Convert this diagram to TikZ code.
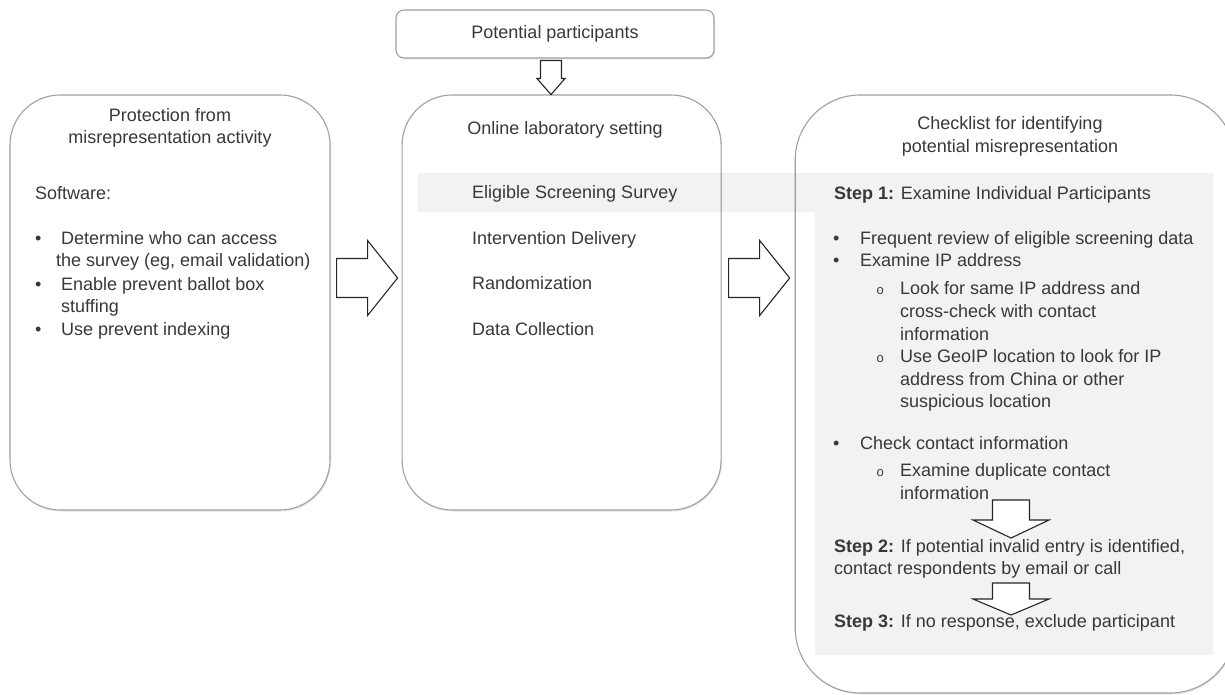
\documentclass[tikz,border=0pt]{standalone}
\usepackage{fontspec}
\setmainfont{Liberation Sans}
\usepackage{tikz}
\usetikzlibrary{positioning,calc,shadows}
\definecolor{txtgray}{HTML}{383838}
\definecolor{linegray}{HTML}{A0A0A0}
\newcommand{\fsz}{\fontsize{18pt}{22.5pt}\selectfont}
\newcommand{\bul}[1][26pt]{\makebox[#1][l]{\textbullet}}
\newcommand{\subbul}{\makebox[23.5pt][l]{\fontsize{13pt}{15pt}\selectfont o}}
% block arrows: tail, tip
\newcommand{\hblock}[2]{\draw[blockarrow] ($(#1)+(0,-19.5)$) -- ($(#2)+(-30,-19.5)$) -- ($(#2)+(-30,-37.5)$) -- (#2) -- ($(#2)+(-30,37.5)$) -- ($(#2)+(-30,19.5)$) -- ($(#1)+(0,19.5)$) -- cycle;}
\newcommand{\vblock}[5]{\draw[blockarrow] ($(#1)+(-#3,0)$) -- ($(#2)+(-#3,-#5)$) -- ($(#2)+(-#4,-#5)$) -- (#2) -- ($(#2)+(#4,-#5)$) -- ($(#2)+(#3,-#5)$) -- ($(#1)+(#3,0)$) -- cycle;}

\begin{document}
\begin{tikzpicture}[x=1pt, y=-1pt,
  bigbox/.style={draw=linegray, line width=1.1pt, fill=white, drop shadow={shadow xshift=1pt, shadow yshift=-1.5pt, opacity=0.2}},
  txt/.style={anchor=mid west, inner sep=0pt, text=txtgray, font=\fsz},
  title/.style={align=center, inner sep=0pt, text=txtgray, font=\fsz},
  blockarrow/.style={draw=black!85, fill=white, line width=1.1pt, line join=miter}]
\useasboundingbox (0,0) rectangle (1225,695);

% the three panels and the top box
\node[bigbox, rounded corners=50pt, minimum width=320pt, minimum height=415pt] (prot) at (170,302.5) {};
\node[bigbox, rounded corners=50pt, minimum width=319pt, minimum height=415pt, right=71pt of prot] (online) {};
\node[bigbox, rounded corners=65pt, minimum width=440pt, minimum height=598pt, anchor=north west] (check) at ($(online.north east)+(73,0)$) {};
\node[bigbox, rounded corners=8pt, minimum width=318pt, minimum height=48pt, text=txtgray, font=\fsz] (pot) at (555,34) {Potential participants};

% shaded band
\fill[black, opacity=0.05] (418,173) -- (1213,173) -- (1213,655) -- (815,655) -- (815,212) -- (418,212) -- cycle;

% left panel
\node[title] (protT) at (170,128) {Protection from\\misrepresentation activity};
\node[txt] (soft) at (35,197) {Software:};
\node[txt] (p1) at (35,242) {\bul Determine who can access};
\node[txt] (p1b) at (56,264) {the survey (eg, email validation)};
\node[txt] (p2) at (35,288) {\bul Enable prevent ballot box};
\node[txt] (p2b) at (61,310) {stuffing};
\node[txt] (p3) at (35,333) {\bul Use prevent indexing};

% middle panel
\node[title] (onlineT) at (565,130) {Online laboratory setting};
\node[txt] (o1) at (472,196) {Eligible Screening Survey};
\node[txt] (o2) at (472,242) {Intervention Delivery};
\node[txt] (o3) at (472,287) {Randomization};
\node[txt] (o4) at (472,333) {Data Collection};

% right panel
\node[title] (checkT) at (1010,136.5) {Checklist for identifying\\potential misrepresentation};
\node[txt] (step1) at (834,197) {\textbf{Step 1:} Examine Individual Participants};
\node[txt] (c1) at (833,242) {\bul[27pt]Frequent review of eligible screening data};
\node[txt] (c2) at (833,264) {\bul[27pt]Examine IP address};
\node[txt] (c2a) at (876.5,292) {\subbul Look for same IP address and};
\node[txt] (c2a2) at (900,315) {cross-check with contact};
\node[txt] (c2a3) at (900,338) {information};
\node[txt] (c2b) at (876.5,360) {\subbul Use GeoIP location to look for IP};
\node[txt] (c2b2) at (900,383) {address from China or other};
\node[txt] (c2b3) at (900,405) {suspicious location};
\node[txt] (c3) at (833,447) {\bul[27pt]Check contact information};
\node[txt] (c3a) at (876.5,474) {\subbul Examine duplicate contact};
\node[txt] (c3a2) at (900,497) {information};
\node[txt] (step2) at (834,550) {\textbf{Step 2:} If potential invalid entry is identified,};
\node[txt] (step2b) at (834,572) {contact respondents by email or call};
\node[txt] (step3) at (834,625) {\textbf{Step 3:} If no response, exclude participant};

% arrows
\coordinate (row) at (0,278);
\coordinate (a1s) at ($(prot.east |- row)+(6,0)$);
\coordinate (a1e) at ($(online.west |- row)+(-4,0)$);
\coordinate (a2s) at ($(online.east |- row)+(7,0)$);
\coordinate (a2e) at ($(check.west |- row)+(-5,0)$);
\hblock{a1s}{a1e}
\hblock{a2s}{a2e}
\coordinate (d0s) at ($(pot.south)+(-4,2)$);
\coordinate (d0e) at ($(pot.south)+(-4,36)$);
\vblock{d0s}{d0e}{10.5}{14}{16}
\coordinate (d1s) at (1011,500);
\coordinate (d1e) at (1011,538);
\coordinate (d2s) at (1011,583);
\coordinate (d2e) at (1011,615);
\vblock{d1s}{d1e}{18.5}{38}{18}
\vblock{d2s}{d2e}{18.5}{38}{16}
\end{tikzpicture}
\end{document}
